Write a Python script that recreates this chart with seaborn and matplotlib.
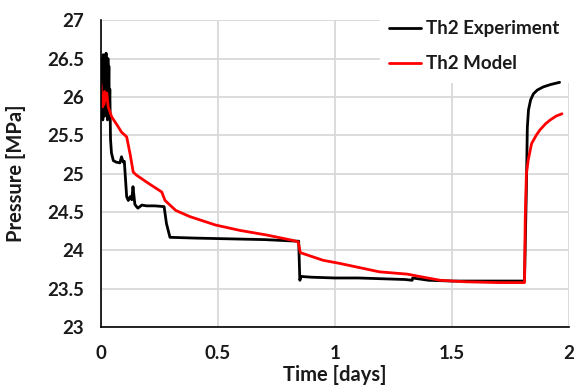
import matplotlib
matplotlib.use("Agg")
import matplotlib.pyplot as plt
import seaborn as sns
import pandas as pd

# ---- data ----
exp_t = [0.000, 0.003, 0.006, 0.008, 0.010, 0.012, 0.014, 0.016, 0.018, 0.020,
         0.022, 0.024, 0.026, 0.028, 0.030, 0.032, 0.034, 0.036, 0.038, 0.041,
         0.045, 0.053, 0.065, 0.081, 0.088, 0.095, 0.100, 0.110, 0.117, 0.125,
         0.132, 0.137, 0.145, 0.152, 0.158, 0.175, 0.195, 0.230, 0.270, 0.280,
         0.295, 0.400, 0.550, 0.700, 0.836, 0.845, 0.850, 0.855, 0.900, 1.000,
         1.100, 1.200, 1.300, 1.330, 1.332, 1.400, 1.500, 1.600, 1.700, 1.810,
         1.818, 1.822, 1.827, 1.836, 1.848, 1.865, 1.890, 1.920, 1.960]
exp_p = [26.30, 25.80, 26.50, 25.70, 26.55, 26.00, 26.50, 25.75, 26.45, 26.10,
         26.57, 25.90, 26.45, 25.70, 26.50, 26.05, 26.40, 25.85, 26.10, 25.45,
         25.27, 25.17, 25.15, 25.14, 25.22, 25.15, 25.16, 24.70, 24.65, 24.70,
         24.66, 24.83, 24.60, 24.57, 24.55, 24.59, 24.58, 24.58, 24.57, 24.35,
         24.17, 24.16, 24.15, 24.14, 24.12, 24.12, 23.61, 23.66, 23.65, 23.64,
         23.64, 23.63, 23.62, 23.61, 23.64, 23.61, 23.60, 23.60, 23.60, 23.60,
         24.80, 25.60, 25.83, 25.96, 26.04, 26.09, 26.13, 26.16, 26.19]

mod_t = [0.000, 0.003, 0.007, 0.010, 0.013, 0.016, 0.020, 0.025, 0.031, 0.046,
         0.074, 0.088, 0.110, 0.125, 0.138, 0.152, 0.200, 0.260, 0.274, 0.320,
         0.380, 0.490, 0.594, 0.708, 0.820, 0.843, 0.852, 0.950, 1.020, 1.190,
         1.310, 1.360, 1.450, 1.560, 1.700, 1.810, 1.813, 1.818, 1.826, 1.840,
         1.860, 1.876, 1.900, 1.920, 1.945, 1.970]
mod_p = [26.17, 26.00, 25.87, 26.02, 25.90, 26.07, 25.95, 26.05, 25.87, 25.74,
         25.61, 25.54, 25.48, 25.25, 25.02, 24.98, 24.88, 24.76, 24.65, 24.52,
         24.44, 24.33, 24.26, 24.20, 24.13, 24.11, 23.97, 23.87, 23.83, 23.72,
         23.69, 23.66, 23.61, 23.59, 23.58, 23.58, 24.40, 25.00, 25.18, 25.39,
         25.50, 25.57, 25.65, 25.70, 25.75, 25.78]

series_names = ["Th2 Experiment", "Th2 Model"]
series_colors = ["#000000", "#ff0000"]
x_ticks = [0, 0.5, 1, 1.5, 2]
y_ticks = [23, 23.5, 24, 24.5, 25, 25.5, 26, 26.5, 27]
x_label = "Time [days]"
y_label = "Pressure [MPa]"

df = pd.concat([
    pd.DataFrame({"t": exp_t, "p": exp_p, "series": series_names[0]}),
    pd.DataFrame({"t": mod_t, "p": mod_p, "series": series_names[1]}),
], ignore_index=True)

sns.set_style("white")
plt.rcParams["font.family"] = ["Lato", "DejaVu Sans"]

fig = plt.figure(figsize=(5.8, 3.88), dpi=100)
ax = fig.add_axes([0.174, 0.157, 0.807, 0.791])

sns.lineplot(data=df, x="t", y="p", hue="series", palette=series_colors,
             hue_order=series_names, estimator=None, sort=False,
             linewidth=2.0, ax=ax, zorder=3)

ax.set_xlim(0, 2)
ax.set_ylim(23, 27)
ax.set_xticks(x_ticks)
ax.set_xticklabels([f"{v:g}" for v in x_ticks])
ax.set_yticks(y_ticks)
ax.set_yticklabels([f"{v:g}" for v in y_ticks])

ax.grid(True, color="#d9d9d9", linewidth=1.3)
ax.set_axisbelow(True)
for s in ["top", "right"]:
    ax.spines[s].set_visible(False)
for s in ["left", "bottom"]:
    ax.spines[s].set_color("black")
    ax.spines[s].set_linewidth(1.2)
    ax.spines[s].set_zorder(4)

ax.tick_params(axis="both", direction="inout", length=8, width=1.2,
               colors="black", labelsize=13.5)
ax.tick_params(axis="y", pad=8)
ax.tick_params(axis="x", pad=9)
for lbl in ax.get_xticklabels() + ax.get_yticklabels():
    lbl.set_fontweight("bold")
    lbl.set_color("#1a1a1a")

ax.set_xlabel(x_label, fontsize=14.5, fontweight="bold", color="#1a1a1a")
ax.set_ylabel(y_label, fontsize=14.5, fontweight="bold", color="#1a1a1a")
ax.xaxis.set_label_coords(0.5, -0.125)
ax.yaxis.set_label_coords(-0.16, 0.5)

leg = ax.legend(loc="upper left", bbox_to_anchor=(0.596, 1.03), frameon=True,
                facecolor="white", edgecolor="white", framealpha=1.0,
                fontsize=13.5, handlelength=1.7, handletextpad=0.28,
                labelspacing=0.95, borderpad=0.5, borderaxespad=0.0,
                fancybox=False)
leg.set_zorder(2.5)
for txt in leg.get_texts():
    txt.set_fontweight("bold")
    txt.set_color("#1a1a1a")
for h in leg.get_lines():
    h.set_linewidth(2.0)

fig.savefig("out.png", dpi=100)
